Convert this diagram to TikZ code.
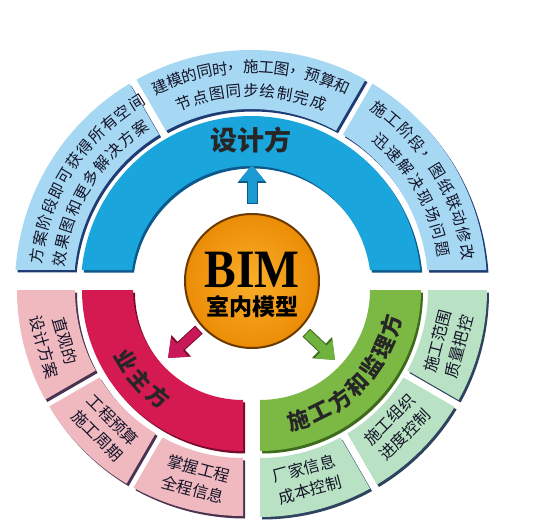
\documentclass[tikz,border=0pt]{standalone}
\usepackage{fontspec}
\setmainfont{Liberation Serif}
\newfontfamily\cjk{Noto Sans CJK SC}
\usetikzlibrary{calc,arrows.meta}
\definecolor{lblue}{HTML}{A6D8F3}
\definecolor{lblueS}{HTML}{1F3B73}
\definecolor{mblue}{HTML}{1BA5DD}
\definecolor{mblueS}{HTML}{0C5A8C}
\definecolor{mred}{HTML}{D51A52}
\definecolor{mredS}{HTML}{7A0A2A}
\definecolor{lpink}{HTML}{F0B9C0}
\definecolor{lpinkS}{HTML}{4A3350}
\definecolor{mgreen}{HTML}{7CB944}
\definecolor{mgreenS}{HTML}{3E6A1C}
\definecolor{lgreen}{HTML}{B9E2C4}
\definecolor{lgreenS}{HTML}{2E4360}
\definecolor{orangeA}{HTML}{F8AE2A}
\definecolor{orangeB}{HTML}{EC8C06}
\definecolor{orangeS}{HTML}{6B3A00}
\definecolor{txt}{HTML}{141428}
\definecolor{arrB}{HTML}{1B9AD2}
\definecolor{arrR}{HTML}{C8185A}
\definecolor{arrG}{HTML}{6FB33F}
% #1 style, #2 center, #3 ri, #4 ro, #5 outer start, #6 outer end, #7 inner start, #8 inner end
\newcommand\ringseg[8]{%
  \path[#1,shift={#2}] (#5:#4) arc[start angle=#5,end angle=#6,radius=#4]
    -- (#8:#3) arc[start angle=#8,end angle=#7,radius=#3] -- cycle;}
% #1 name prefix, #2 center, #3 radius, #4 start angle, #5 step, #6 rot offset, #7 style, #8 chars
\newcommand\arctext[8]{%
  \foreach \ch [count=\i from 0] in {#8} {%
    \pgfmathsetmacro\ang{#4+\i*(#5)}%
    \pgfmathsetmacro\rot{\ang+(#6)}%
    \node[#7, rotate=\rot] (#1-\i) at ($#2+(\ang:#3)$) {\ch};
  }}
\begin{document}
\begin{tikzpicture}[x=1pt,y=1pt,
  segtext/.style={font=\cjk\fontsize{15.5}{20}\selectfont, inner sep=0pt, text=txt, align=center},
  boxtext/.style={font=\cjk\fontsize{16}{22}\selectfont, inner sep=0pt, text=txt, align=center},
  titletext/.style={font=\cjk\bfseries\fontsize{22}{22}\selectfont, inner sep=0pt, text=black!85},
  blockarrow/.style={line width=9pt, -{Triangle[width=25pt,length=16pt]}}]
\useasboundingbox (0,0) rectangle (549,531);
\fill[white] (0,0) rectangle (549,531);

% ---------- top (design) ----------
\foreach \st/\dx/\dy in {lblueS/2/-2.5, lblue/0/0} {
  \ringseg{fill=\st, xshift=\dx, yshift=\dy}{(251,245)}{177pt}{236pt}{3.887}{59.03}{5.186}{58.70}
  \ringseg{fill=\st, xshift=\dx, yshift=\dy}{(251,245)}{177pt}{236pt}{60.97}{119.03}{61.30}{118.70}
  \ringseg{fill=\st, xshift=\dx, yshift=\dy}{(251,245)}{177pt}{236pt}{120.97}{176.11}{121.30}{174.81}
}
\ringseg{fill=mblueS, xshift=2, yshift=-2.5}{(251,245)}{120pt}{170pt}{5.400}{174.6}{7.662}{172.338}
\ringseg{fill=mblue}{(251,245)}{120pt}{170pt}{5.400}{174.6}{7.662}{172.338}

% ---------- bottom left (owner) ----------
\foreach \st/\dx/\dy in {lpinkS/2/-2.5, lpink/0/0} {
  \ringseg{fill=\st, xshift=\dx, yshift=\dy}{(243,241)}{168pt}{226pt}{180}{208.986}{180}{208.636}
  \ringseg{fill=\st, xshift=\dx, yshift=\dy}{(243,241)}{168pt}{226pt}{211.014}{238.986}{211.364}{238.636}
  \ringseg{fill=\st, xshift=\dx, yshift=\dy}{(243,241)}{168pt}{226pt}{241.014}{270}{241.364}{270}
}
\ringseg{fill=mredS, xshift=2, yshift=-2.5}{(243,241)}{110pt}{161pt}{180}{270}{180}{270}
\ringseg{fill=mred}{(243,241)}{110pt}{161pt}{180}{270}{180}{270}

% ---------- bottom right (builder) ----------
\foreach \st/\dx/\dy in {lgreenS/2/-2.5, lgreen/0/0} {
  \ringseg{fill=\st, xshift=\dx, yshift=\dy}{(260,241)}{168pt}{227pt}{270}{298.986}{270}{298.636}
  \ringseg{fill=\st, xshift=\dx, yshift=\dy}{(260,241)}{168pt}{227pt}{301.014}{328.986}{301.364}{328.636}
  \ringseg{fill=\st, xshift=\dx, yshift=\dy}{(260,241)}{168pt}{227pt}{331.014}{360}{331.364}{360}
}
\ringseg{fill=mgreenS, xshift=2, yshift=-2.5}{(260,241)}{110pt}{161pt}{270}{360}{270}{360}
\ringseg{fill=mgreen}{(260,241)}{110pt}{161pt}{270}{360}{270}{360}

% ---------- top texts ----------
\arctext{tlo}{(251,245)}{216pt}{172}{-4.545}{-90}{segtext}{方,案,阶,段,即,可,获,得,所,有,空,间}
\arctext{tli}{(251,245)}{193pt}{172}{-5.22}{-90}{segtext}{效,果,图,和,更,多,解,决,方,案}
\arctext{tmo}{(251,245)}{219pt}{114.5}{-4.083}{-90}{segtext}{建,模,的,同,时,，,施,工,图,，,预,算,和}
\arctext{tmi}{(251,245)}{195pt}{110.2}{-5.05}{-90}{segtext}{节,点,图,同,步,绘,制,完,成}
\arctext{tro}{(251,245)}{219pt}{54}{-4.5}{-90}{segtext}{施,工,阶,段,，,图,纸,联,动,修,改}
\arctext{tri}{(251,245)}{195pt}{48}{-5.29}{-90}{segtext}{迅,速,解,决,现,场,问,题}
\node[font=\cjk\bfseries\fontsize{27}{27}\selectfont, text=black!85, inner sep=0pt] (design) at (251,391) {设计方};

% ---------- bottom texts ----------
\arctext{own}{(243,241)}{136pt}{211}{10.25}{90}{titletext}{业,主,方}
\arctext{bld}{(260,241)}{136pt}{286.5}{9.75}{90}{titletext}{施,工,方,和,监,理,方}
\node[boxtext, rotate=286] (p1) at ($(243,241)+(196:196pt)$) {直观的\\设计方案};
\node[boxtext, rotate=315] (p2) at ($(243,241)+(225:195pt)$) {工程预算\\施工周期};
\node[boxtext, rotate=345] (p3) at ($(243,241)+(256:195pt)$) {掌握工程\\全程信息};
\node[boxtext, rotate=15] (g1) at ($(260,241)+(284:195pt)$) {厂家信息\\成本控制};
\node[boxtext, rotate=45] (g2) at ($(260,241)+(315:194pt)$) {施工组织\\进度控制};
\node[boxtext, rotate=75] (g3) at ($(260,241)+(344:196pt)$) {施工范围\\质量把控};

% ---------- centre ----------
\node[circle, inner color=orangeA, outer color=orangeB, draw=orangeS, line width=2pt,
      minimum size=134pt, inner sep=0pt] (bim) at (252,250) {};
\node[font=\bfseries\fontsize{54}{54}\selectfont, xscale=0.88, inner sep=0pt] (bimt) at (252,261) {BIM};
\node[font=\cjk\bfseries\fontsize{23}{23}\selectfont, inner sep=0pt] (bimc) at (252,224.5) {室内模型};

% ---------- arrows ----------
\coordinate (tipB) at (252,366);
\coordinate (tipR) at (168,173);
\coordinate (tipG) at (335,171);
\draw[blockarrow, draw=mblueS, line width=11pt, shorten <=9pt, -{Triangle[width=28pt,length=18pt]}] (bim) -- (tipB);
\draw[blockarrow, draw=arrB, shorten <=10pt] (bim) -- (tipB);
\draw[blockarrow, draw=mredS, line width=11pt, shorten <=4pt, -{Triangle[width=28pt,length=18pt]}] (bim) -- (tipR);
\draw[blockarrow, draw=arrR, shorten <=5pt] (bim) -- (tipR);
\draw[blockarrow, draw=mgreenS, line width=11pt, shorten <=7pt, -{Triangle[width=28pt,length=18pt]}] (bim) -- (tipG);
\draw[blockarrow, draw=arrG, shorten <=8pt] (bim) -- (tipG);
\end{tikzpicture}
\end{document}
